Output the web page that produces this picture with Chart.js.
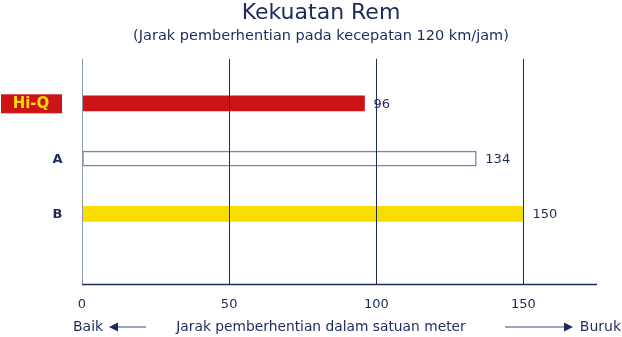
<!DOCTYPE html>
<html>
  <head>
    <meta charset="UTF-8" />
    <title>Kekuatan Rem</title>
    <script src="https://cdn.jsdelivr.net/npm/chart.js"></script>
    <style>
      html, body { margin: 0; padding: 0; background: #ffffff; }
      .wrap { width: 622px; height: 337px; }
    </style>
  </head>
  <body>
    <div class="wrap"><canvas id="myChart"></canvas></div>

    <script>
      const categories = ["Hi-Q", "A", "B"];
      const distances = [96, 134, 150];
      const xTicks = [0, 50, 100, 150];

      const NAVY = "#1c2a5c";
      const FONT = "'DejaVu Sans', sans-serif";
      const fillColors = ["#cc1417", "#ffffff", "#f9dc00"];
      const edgeColors = ["#cc1417", "#6f86b6", "#f9dc00"];

      // labels on the left, values at bar ends, bottom axis line and the Baik / Buruk row
      const extras = {
        id: "extras",
        afterDraw(chart) {
          const ctx = chart.ctx;
          const xs = chart.scales.x, ys = chart.scales.y;
          const area = chart.chartArea;
          ctx.save();

          ctx.strokeStyle = NAVY;
          ctx.lineWidth = 1.5;
          ctx.beginPath();
          ctx.moveTo(xs.getPixelForValue(0), area.bottom);
          ctx.lineTo(area.right, area.bottom);
          ctx.stroke();

          ctx.textBaseline = "middle";
          categories.forEach((c, i) => {
            const y = ys.getPixelForValue(i);
            if (i === 0) {
              ctx.fillStyle = "#cc1417";
              ctx.fillRect(1, y - 9, 61, 19);
              ctx.fillStyle = "#f9dc00";
              ctx.font = "bold 15px " + FONT;
              ctx.textAlign = "center";
              ctx.fillText(c, 31, y + 1);
            } else {
              ctx.fillStyle = NAVY;
              ctx.font = "bold 13px " + FONT;
              ctx.textAlign = "center";
              ctx.fillText(c, 57.5, y + 1);
            }
            ctx.fillStyle = NAVY;
            ctx.font = "13px " + FONT;
            ctx.textAlign = "left";
            ctx.fillText(String(distances[i]), xs.getPixelForValue(distances[i]) + 9, y + 1);
          });

          const yb = 327;
          ctx.fillStyle = NAVY;
          ctx.font = "13.8px " + FONT;
          ctx.textAlign = "center";
          ctx.fillText("Jarak pemberhentian dalam satuan meter", 321, yb);
          ctx.font = "14px " + FONT;
          ctx.textAlign = "left";
          ctx.fillText("Baik", 73, yb);
          ctx.textAlign = "right";
          ctx.fillText("Buruk", 621, yb);

          ctx.strokeStyle = "#7a88b0";
          ctx.lineWidth = 1.5;
          ctx.beginPath();
          ctx.moveTo(115, yb); ctx.lineTo(146, yb);
          ctx.moveTo(505, yb); ctx.lineTo(565, yb);
          ctx.stroke();
          ctx.fillStyle = NAVY;
          ctx.beginPath();
          ctx.moveTo(109, yb); ctx.lineTo(118, yb - 4.5); ctx.lineTo(118, yb + 4.5); ctx.closePath();
          ctx.moveTo(573, yb); ctx.lineTo(564, yb - 4.5); ctx.lineTo(564, yb + 4.5); ctx.closePath();
          ctx.fill();
          ctx.restore();
        }
      };

      const ctx = document.getElementById("myChart").getContext("2d");
      new Chart(ctx, {
        type: "bar",
        data: {
          datasets: [{
            data: distances.map((d, i) => ({ x: d, y: i })),
            backgroundColor: fillColors,
            borderColor: edgeColors,
            borderWidth: [0, 1.5, 0],
            borderSkipped: false,
            barThickness: 15
          }]
        },
        options: {
          indexAxis: "y",
          responsive: true,
          maintainAspectRatio: false,
          animation: false,
          layout: { padding: { left: 45, right: 25, top: 0, bottom: 13 } },
          plugins: {
            legend: { display: false },
            tooltip: { enabled: false },
            title: {
              display: true,
              text: "Kekuatan Rem",
              color: NAVY,
              font: { family: FONT, size: 22, weight: "normal" },
              padding: { top: 0, bottom: 1 }
            },
            subtitle: {
              display: true,
              text: "(Jarak pemberhentian pada kecepatan 120 km/jam)",
              color: NAVY,
              font: { family: FONT, size: 14.5 },
              padding: { top: 0, bottom: 14 }
            }
          },
          scales: {
            x: {
              type: "linear",
              min: 0,
              max: 175,
              afterBuildTicks: s => { s.ticks = xTicks.map(v => ({ value: v })); },
              ticks: { color: NAVY, font: { family: FONT, size: 13 }, padding: 12 },
              grid: {
                z: 1,
                drawTicks: false,
                color: c => (c.tick && c.tick.value === 0 ? "#8a97b8" : NAVY),
                lineWidth: 1
              },
              border: { display: false }
            },
            y: {
              type: "linear",
              reverse: true,
              min: -0.55,
              max: 3.02,
              ticks: { display: false },
              grid: { display: false },
              border: { display: false },
              afterFit: s => { s.width = 37; }
            }
          }
        },
        plugins: [extras]
      });
    </script>
  </body>
</html>
